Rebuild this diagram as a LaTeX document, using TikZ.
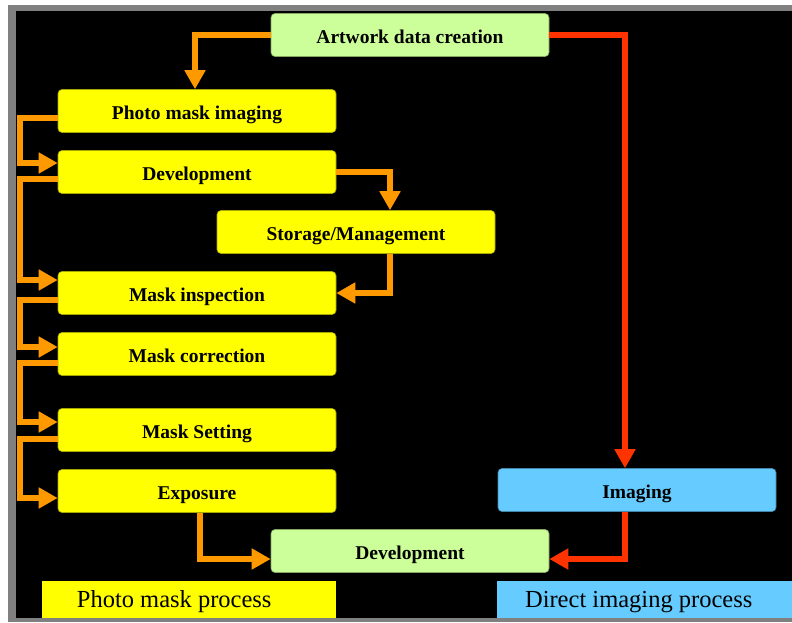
\documentclass[tikz,border=0pt]{standalone}
\usepackage{fontspec}
\setmainfont{Liberation Serif}
\usetikzlibrary{arrows.meta,calc}
\definecolor{stepyellow}{HTML}{FFFF00}
\definecolor{stepgreen}{HTML}{CCFF99}
\definecolor{stepblue}{HTML}{66CCFF}
\definecolor{flowgold}{HTML}{FF9900}
\definecolor{flowred}{HTML}{FF3300}
\definecolor{framegray}{HTML}{808080}
\begin{document}
\begin{tikzpicture}[x=1pt,y=-1pt,
  stage/.style={rectangle, rounded corners=4pt, minimum width=278pt, minimum height=43pt,
    inner sep=0pt, fill=#1, draw=#1!65!black, line width=0.6pt,
    text height=16pt, text depth=0pt,
    font=\fontsize{19.5}{22}\selectfont\bfseries},
  legendbox/.style={rectangle, fill=#1, inner sep=0pt, anchor=north west,
    minimum width=294pt, minimum height=37pt},
  legendtext/.style={anchor=base, inner sep=0pt, font=\fontsize{24.5}{28}\selectfont},
  flow/.style={draw=flowgold, line width=5.6pt, -{Triangle[length=19pt,width=20pt]}},
  redflow/.style={flow, draw=flowred}]

% page, frame and black panel
\useasboundingbox (0,0) rectangle (792,622);
\fill[white] (0,0) rectangle (792,622);
\fill[framegray] (8,5) rectangle (792,622);
\fill[black] (16,11) rectangle (792,618);

% process steps
\node[stage=stepgreen]  (art)  at (410,35)  {Artwork data creation};
\node[stage=stepyellow] (pmi)  at (197,111) {Photo mask imaging};
\node[stage=stepyellow] (dev1) at (197,172) {Development};
\node[stage=stepyellow] (stor) at (356,232) {Storage/Management};
\node[stage=stepyellow] (insp) at (197,293) {Mask inspection};
\node[stage=stepyellow] (corr) at (197,354) {Mask correction};
\node[stage=stepyellow] (sett) at (197,430) {Mask Setting};
\node[stage=stepyellow] (expo) at (197,491) {Exposure};
\node[stage=stepgreen]  (dev2) at (410,551) {Development};
\node[stage=stepblue]   (img)  at (637,490) {Imaging};

% legend bars
\node[legendbox=stepyellow] (pmp) at (42,581) {};
\node[legendbox=stepblue, minimum width=295pt] (dip) at (497,581) {};
\node[legendtext] (pmptext) at ($(pmp.center)+(-15,7.5)$) {Photo mask process};
\node[legendtext] (diptext) at ($(dip.center)+(-6,7.5)$) {Direct imaging process};

% photo mask route
\draw[flow] (art.west) -| ($(pmi.north)+(-2,0)$);
\draw[flow] ($(pmi.west)+(0,7)$) -- ++(-38,0) |- ($(dev1.west)+(0,-9)$);
\draw[flow] ($(dev1.west)+(0,7)$) -- ++(-38,0) |- ($(insp.west)+(0,-13)$);
\draw[flow] ($(insp.west)+(0,7)$) -- ++(-38,0) |- ($(corr.west)+(0,-7)$);
\draw[flow] ($(corr.west)+(0,9)$) -- ++(-38,0) |- ($(sett.west)+(0,-8)$);
\draw[flow] ($(sett.west)+(0,9)$) -- ++(-38,0) |- ($(expo.west)+(0,7)$);
\draw[flow] (dev1.east) -| ($(stor.north)+(34,0)$);
\draw[flow] ($(stor.south)+(34,0)$) |- (insp.east);
\draw[flow] ($(expo.south)+(3,0)$) |- ($(dev2.west)+(0,8)$);

% direct imaging route
\draw[redflow] (art.east) -| ($(img.north)+(-12,0)$);
\draw[redflow] ($(img.south)+(-12,0)$) |- ($(dev2.east)+(0,8)$);
\end{tikzpicture}
\end{document}
